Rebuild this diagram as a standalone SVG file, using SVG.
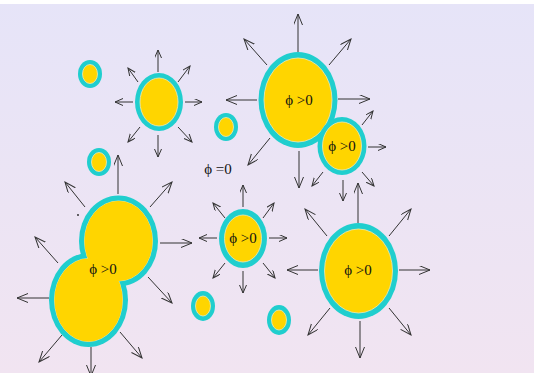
<svg xmlns="http://www.w3.org/2000/svg" width="534" height="373" viewBox="0 0 534 373">
<defs>
<linearGradient id="bg" x1="0" y1="0" x2="0" y2="1">
<stop offset="0" stop-color="#E6E4F8"/>
<stop offset="1" stop-color="#F1E4F1"/>
</linearGradient>
<marker id="ah" markerWidth="14" markerHeight="12" refX="11" refY="4.5" orient="auto" markerUnits="userSpaceOnUse">
<path d="M0,0 L11,4.5 L0,9" fill="none" stroke="#333" stroke-width="1"/>
</marker>
<marker id="as" markerWidth="12" markerHeight="10" refX="8" refY="3.5" orient="auto" markerUnits="userSpaceOnUse">
<path d="M0,0 L8,3.5 L0,7" fill="none" stroke="#333" stroke-width="1"/>
</marker>
</defs>
<style>
.ring{fill:#20CECE}
.core{fill:#FFD500;stroke:#F2E8B0;stroke-width:0.8}
.corefill{fill:#FFD500}
.lbl{font-family:"Liberation Serif","DejaVu Serif",serif;font-size:15px;fill:#111;text-anchor:middle;dominant-baseline:central}
.a{stroke:#333;stroke-width:1;fill:none}
.al{marker-end:url(#ah)}
.as{marker-end:url(#as)}
</style>
<rect x="0" y="0" width="534" height="373" fill="url(#bg)"/>
<rect x="0" y="0" width="534" height="4" fill="#FFFFFF"/>

<g id="connectors">
<!-- A -->
<line class="a as" x1="158" y1="72" x2="158" y2="50"/>
<line class="a as" x1="185" y1="102" x2="202" y2="102"/>
<line class="a as" x1="133" y1="102" x2="115" y2="102"/>
<line class="a as" x1="158" y1="135" x2="158" y2="157"/>
<line class="a as" x1="138" y1="82" x2="128" y2="68"/>
<line class="a as" x1="178" y1="82" x2="190" y2="66"/>
<line class="a as" x1="140" y1="127" x2="128" y2="142"/>
<line class="a as" x1="178" y1="127" x2="192" y2="142"/>
<!-- B -->
<line class="a al" x1="298" y1="52" x2="298" y2="14"/>
<line class="a al" x1="257" y1="100" x2="226" y2="100"/>
<line class="a al" x1="338" y1="99" x2="370" y2="99"/>
<line class="a al" x1="267" y1="65" x2="244" y2="39"/>
<line class="a al" x1="329" y1="65" x2="351" y2="39"/>
<line class="a al" x1="270" y1="138" x2="248" y2="165"/>
<line class="a al" x1="299" y1="151" x2="299" y2="188"/>
<!-- C -->
<line class="a as" x1="362" y1="125" x2="373" y2="111"/>
<line class="a as" x1="368" y1="147" x2="386" y2="147"/>
<line class="a as" x1="362" y1="172" x2="374" y2="186"/>
<line class="a as" x1="343" y1="180" x2="343" y2="201"/>
<line class="a as" x1="323" y1="172" x2="312" y2="186"/>
<!-- D -->
<line class="a as" x1="243" y1="207" x2="243" y2="185"/>
<line class="a as" x1="225" y1="218" x2="213" y2="203"/>
<line class="a as" x1="263" y1="218" x2="274" y2="203"/>
<line class="a as" x1="217" y1="238" x2="199" y2="238"/>
<line class="a as" x1="269" y1="238" x2="287" y2="238"/>
<line class="a as" x1="225" y1="263" x2="213" y2="278"/>
<line class="a as" x1="263" y1="263" x2="275" y2="278"/>
<line class="a as" x1="243" y1="271" x2="243" y2="293"/>
<!-- E -->
<line class="a al" x1="358" y1="223" x2="358" y2="183"/>
<line class="a al" x1="327" y1="236" x2="305" y2="209"/>
<line class="a al" x1="389" y1="236" x2="411" y2="209"/>
<line class="a al" x1="318" y1="270" x2="287" y2="270"/>
<line class="a al" x1="399" y1="270" x2="430" y2="270"/>
<line class="a al" x1="330" y1="308" x2="308" y2="335"/>
<line class="a al" x1="389" y1="308" x2="411" y2="335"/>
<line class="a al" x1="360" y1="321" x2="360" y2="358"/>
<!-- F -->
<line class="a al" x1="118" y1="194" x2="118" y2="155"/>
<line class="a al" x1="85" y1="207" x2="65" y2="182"/>
<line class="a al" x1="150" y1="207" x2="172" y2="182"/>
<line class="a al" x1="160" y1="243" x2="192" y2="243"/>
<line class="a al" x1="58" y1="263" x2="35" y2="237"/>
<line class="a al" x1="49" y1="298" x2="17" y2="298"/>
<line class="a al" x1="148" y1="277" x2="172" y2="303"/>
<line class="a al" x1="62" y1="335" x2="39" y2="362"/>
<line class="a al" x1="120" y1="332" x2="142" y2="358"/>
<line class="a al" x1="91" y1="347" x2="91" y2="376"/>
</g>

<g id="dot1"><ellipse class="ring" cx="90" cy="74" rx="12" ry="14"/><ellipse class="core" cx="90" cy="74" rx="7.5" ry="9.5"/></g>
<g id="dot2"><ellipse class="ring" cx="226" cy="127" rx="12" ry="14"/><ellipse class="core" cx="226" cy="127" rx="7.5" ry="9.5"/></g>
<g id="dot3"><ellipse class="ring" cx="99" cy="162" rx="12" ry="14"/><ellipse class="core" cx="99" cy="162" rx="7.5" ry="9.5"/></g>
<g id="dot4"><ellipse class="ring" cx="203" cy="306" rx="12" ry="15"/><ellipse class="core" cx="203" cy="306" rx="7.5" ry="10"/></g>
<g id="dot5"><ellipse class="ring" cx="279" cy="320" rx="12" ry="15"/><ellipse class="core" cx="279" cy="320" rx="7.5" ry="10"/></g>

<g id="bubbleA">
<ellipse class="ring" cx="159" cy="102" rx="24" ry="29"/>
<ellipse class="core" cx="159" cy="102" rx="19" ry="24"/>
</g>

<g id="bubbleB">
<ellipse class="ring" cx="298" cy="100" rx="39.5" ry="48"/>
<ellipse class="core" cx="298" cy="100" rx="34" ry="42"/>
<text class="lbl" x="299" y="100">ϕ &gt;0</text>
</g>

<g id="bubbleC">
<ellipse class="ring" cx="342" cy="146" rx="24.5" ry="29"/>
<ellipse class="core" cx="342" cy="146" rx="19.5" ry="24"/>
<text class="lbl" x="342" y="146">ϕ &gt;0</text>
</g>

<g id="bubbleD">
<ellipse class="ring" cx="243" cy="238.5" rx="24" ry="29.5"/>
<ellipse class="core" cx="243" cy="238.5" rx="18.5" ry="23.5"/>
<text class="lbl" x="243" y="238">ϕ &gt;0</text>
</g>

<g id="bubbleE">
<ellipse class="ring" cx="358.5" cy="271" rx="39.5" ry="48"/>
<ellipse class="core" cx="358.5" cy="271" rx="34" ry="42"/>
<text class="lbl" x="358" y="270">ϕ &gt;0</text>
</g>

<g id="bubbleF">
<ellipse class="ring" cx="118.5" cy="241" rx="39.5" ry="45.5"/>
<ellipse class="ring" cx="88.5" cy="300" rx="39.5" ry="47"/>
<ellipse class="core" cx="118.5" cy="241" rx="34" ry="40"/>
<ellipse class="core" cx="88.5" cy="300" rx="34" ry="41.5"/>
<ellipse class="corefill" cx="118.5" cy="241" rx="34" ry="40"/>
<ellipse class="corefill" cx="88.5" cy="300" rx="34" ry="41.5"/>
<text class="lbl" x="103" y="269">ϕ &gt;0</text>
</g>

<g id="phi0">
<text class="lbl" x="218" y="169">ϕ =0</text>
</g>
<circle cx="78" cy="215" r="0.9" fill="#222"/>
</svg>
